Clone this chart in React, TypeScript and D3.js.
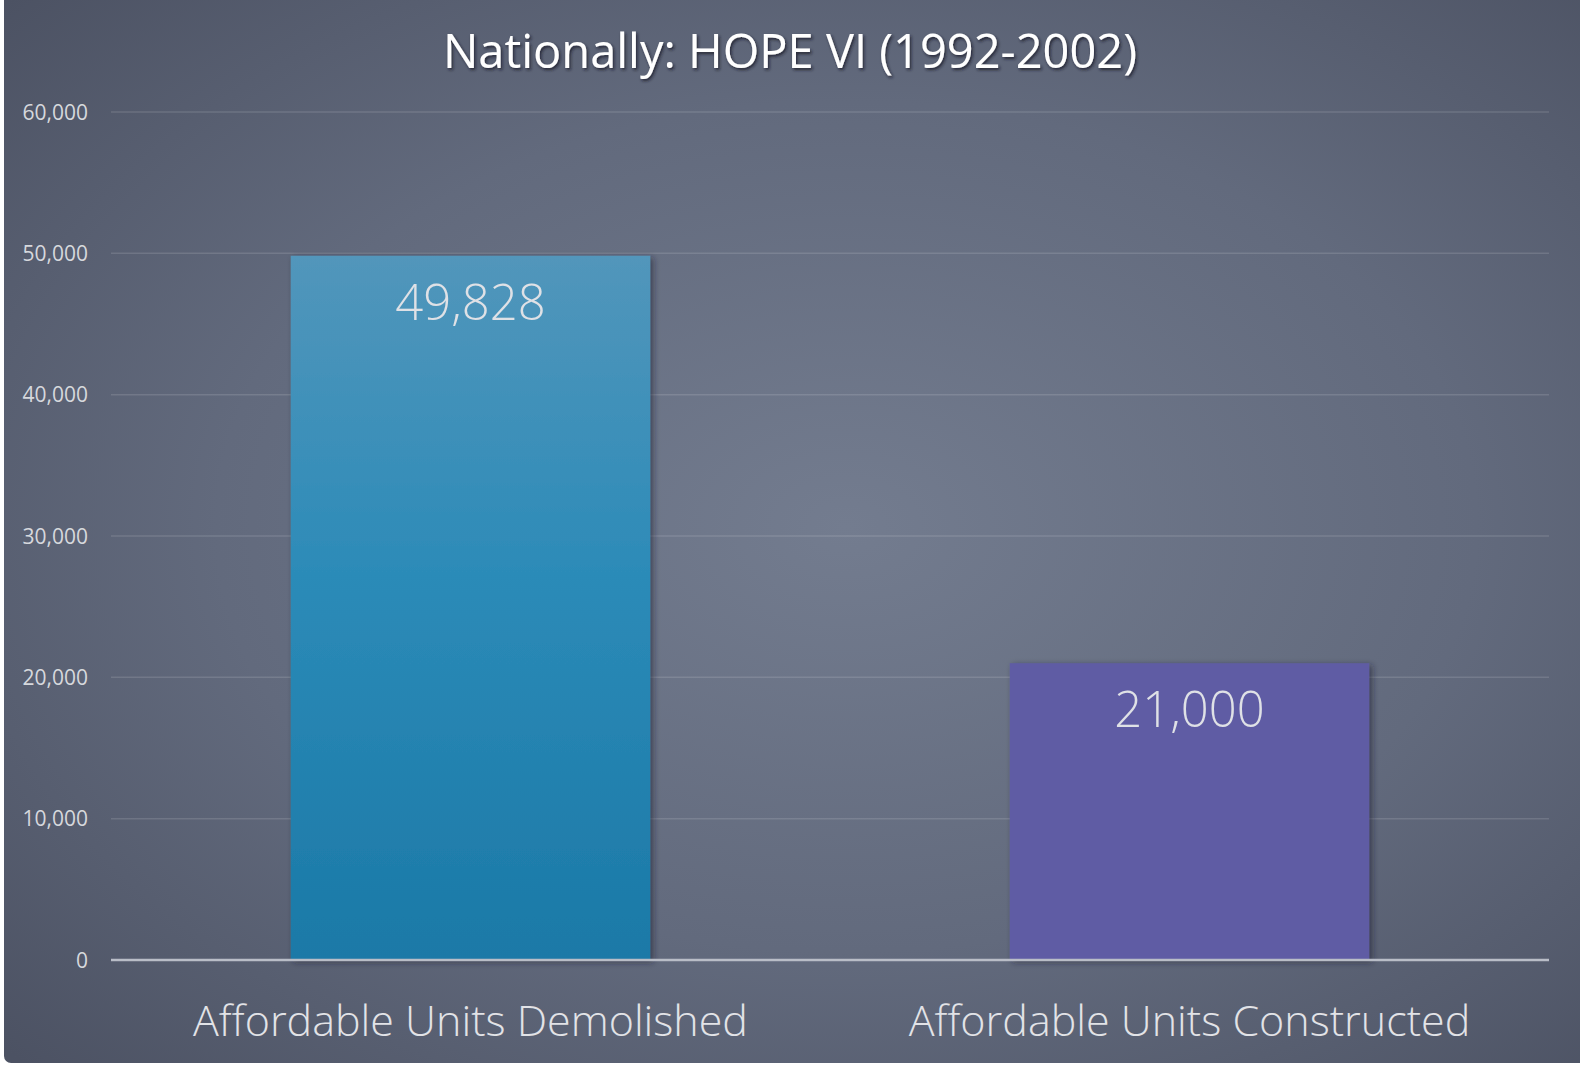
import React from "react";
import * as d3 from "d3";

const categories = ["Affordable Units Demolished", "Affordable Units Constructed"];
const values = [49828, 21000];
const yTicks = [0, 10000, 20000, 30000, 40000, 50000, 60000];
const title = "Nationally: HOPE VI (1992-2002)";

const W = 1580;
const H = 1065;
const plot = { left: 111, right: 1549, top: 112, bottom: 960 };

export default function App() {
  const x = d3
    .scaleBand<string>()
    .domain(categories)
    .range([plot.left, plot.right])
    .paddingInner(0.5)
    .paddingOuter(0.25);
  const y = d3.scaleLinear().domain([0, 60000]).range([plot.bottom, plot.top]);
  const fmt = d3.format(",");
  const font = "'Open Sans', 'Noto Sans', sans-serif";

  return (
    <svg
      width={W}
      height={H}
      style={{ position: "absolute", left: 0, top: 0 }}
      xmlns="http://www.w3.org/2000/svg"
    >
      <defs>
        <radialGradient id="bg" cx="0.53" cy="0.5" r="0.72" fx="0.53" fy="0.5">
          <stop offset="0" stopColor="#737c8f" />
          <stop offset="0.55" stopColor="#626a7d" />
          <stop offset="1" stopColor="#4c5263" />
        </radialGradient>
        <linearGradient id="bar0" x1="0" y1="0" x2="0" y2="1">
          <stop offset="0" stopColor="#5296bb" />
          <stop offset="0.45" stopColor="#2c8bb8" />
          <stop offset="1" stopColor="#1b79a7" />
        </linearGradient>
        <filter id="shadow" x="-10%" y="-10%" width="130%" height="120%">
          <feDropShadow dx="3" dy="2" stdDeviation="3" floodColor="#20242f" floodOpacity="0.55" />
        </filter>
        <filter id="tshadow" x="-5%" y="-30%" width="110%" height="160%">
          <feDropShadow dx="1.5" dy="2" stdDeviation="1.5" floodColor="#1a1d26" floodOpacity="0.8" />
        </filter>
      </defs>
      <rect x={0} y={0} width={W} height={H} fill="#ffffff" />
      <rect x={4} y={-10} width={W + 10} height={H + 8} rx={7} fill="url(#bg)" />

      <text
        x={790}
        y={68}
        textAnchor="middle"
        fontFamily={font}
        fontSize={47}
        fill="#ffffff"
        filter="url(#tshadow)"
      >
        {title}
      </text>

      {yTicks.map((t) => (
        <g key={t}>
          {t !== 0 && (
            <line
              x1={plot.left}
              x2={plot.right}
              y1={y(t)}
              y2={y(t)}
              stroke="#ffffff"
              strokeOpacity={0.13}
              strokeWidth={1.5}
            />
          )}
          <text
            x={88}
            y={y(t) + 7.5}
            textAnchor="end"
            fontFamily={font}
            fontWeight={400}
            fontSize={21}
            fill="#d6d8dd"
          >
            {fmt(t)}
          </text>
        </g>
      ))}

      {categories.map((c, i) => (
        <rect
          key={c}
          x={x(c)}
          y={y(values[i])}
          width={x.bandwidth()}
          height={y(0) - y(values[i])}
          fill={i === 0 ? "url(#bar0)" : "#5f5ca4"}
          filter="url(#shadow)"
        />
      ))}

      <line
        x1={plot.left}
        x2={plot.right}
        y1={y(0)}
        y2={y(0)}
        stroke="#b9bdc7"
        strokeWidth={2.5}
      />

      {categories.map((c, i) => (
        <text
          key={"v" + c}
          x={(x(c) as number) + x.bandwidth() / 2}
          y={y(values[i]) + 64}
          textAnchor="middle"
          fontFamily={font}
          fontWeight={300}
          fontSize={49}
          fill="#dfe1e6"
        >
          {fmt(values[i])}
        </text>
      ))}

      {categories.map((c) => (
        <text
          key={"c" + c}
          x={(x(c) as number) + x.bandwidth() / 2}
          y={1036}
          textAnchor="middle"
          fontFamily={font}
          fontWeight={300}
          fontSize={43}
          fill="#e2e3e7"
        >
          {c}
        </text>
      ))}
    </svg>
  );
}
